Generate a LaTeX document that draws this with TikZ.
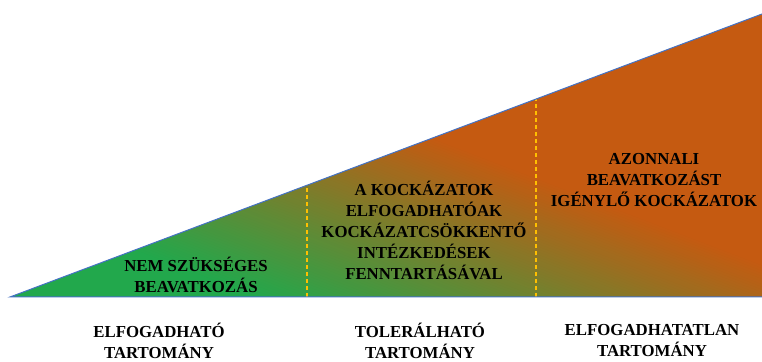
\documentclass[tikz,border=0pt]{standalone}
\usepackage{fontspec}
\setmainfont{Liberation Serif}
\definecolor{riskgreen}{RGB}{34,168,76}
\definecolor{riskorange}{RGB}{197,90,17}
\definecolor{edgeblue}{RGB}{68,114,196}
\definecolor{dashgold}{RGB}{255,192,0}
\begin{document}
\begin{tikzpicture}[x=1pt,y=1pt,
  lbl/.style={font=\fontsize{16.8}{21}\selectfont\bfseries, align=center, text=black, inner sep=0pt},
  divider/.style={draw=dashgold, line width=1.2pt, dash pattern=on 4pt off 3pt},
  outline/.style={draw=edgeblue, line width=1pt}]
\useasboundingbox (0,0) rectangle (762,361);
\coordinate (A) at (10,64);
\coordinate (B) at (762,347);
\coordinate (C) at (762,64);
\begin{scope}
  \clip (A) -- (B) -- (C) -- cycle;
  \begin{scope}[transform canvas={rotate=-21}]
    \fill[riskgreen] (-300,-300) rectangle (1000,152);
    \fill[riskorange] (-300,362) rectangle (1000,1000);
    \foreach \i in {0,...,85} {
      \pgfmathsetmacro\mixpct{100*\i/85}
      \fill[riskorange!\mixpct!riskgreen] (-300,{150+2.5*\i}) rectangle (1000,{150+2.5*\i+3.2});
    }
  \end{scope}
\end{scope}
\coordinate (d1b) at (307,64);
\coordinate (d1t) at (307,175.8);
\coordinate (d2b) at (536,64);
\coordinate (d2t) at (536,261.9);
\draw[divider] (d1b) -- (d1t);
\draw[divider] (d2b) -- (d2t);
\draw[outline] (B) -- (A) -- (C);
\node[lbl] (t1) at (196,86.5) {NEM SZÜKSÉGES\\BEAVATKOZÁS};
\node[lbl] (t2) at (424,130.5) {A KOCKÁZATOK\\ELFOGADHATÓAK\\KOCKÁZATCSÖKKENTŐ\\INTÉZKEDÉSEK\\FENNTARTÁSÁVAL};
\node[lbl] (t3) at (654,181) {AZONNALI\\BEAVATKOZÁST\\IGÉNYLŐ KOCKÁZATOK};
\node[lbl] (b1) at (159,20) {ELFOGADHATÓ\\TARTOMÁNY};
\node[lbl] (b2) at (420,20) {TOLERÁLHATÓ\\TARTOMÁNY};
\node[lbl] (b3) at (652,20) {ELFOGADHATATLAN\\TARTOMÁNY};
\end{tikzpicture}
\end{document}
